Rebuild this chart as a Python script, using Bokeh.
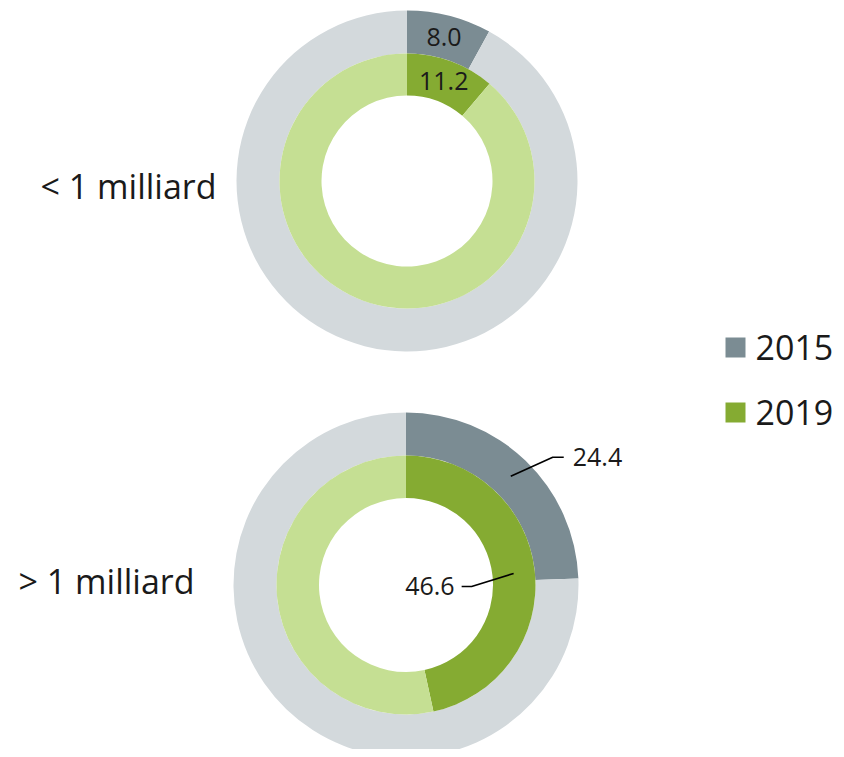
import math
from bokeh.plotting import figure
from bokeh.models import Range1d
from bokeh.core.properties import value
from bokeh.embed import file_html
from bokeh.resources import INLINE

# ---- data ----
categories = ["< 1 milliard", "> 1 milliard"]
years = ["2015", "2019"]
values_2015 = [8.0, 24.4]
values_2019 = [11.2, 46.6]

# ---- style ----
C2015 = "#7b8c93"
C2015_REST = "#d3d9dc"
C2019 = "#85ab32"
C2019_REST = "#c5df93"
FONT = "Open Sans"
TXT = "#1a1a1a"

W, H = 836, 749
p = figure(width=W, height=H, output_backend="svg", toolbar_location=None,
           x_range=Range1d(0, W), y_range=Range1d(757 - H, 757),
           min_border=0, outline_line_color=None)
p.axis.visible = False
p.grid.visible = False
p.background_fill_color = "white"
p.border_fill_color = "white"

def sy(y):  # screen y -> data y
    return 757 - y

centers = [(406.5, 180.5), (405.5, 584.5)]
rings = [  # (inner, outer) radii for 2015 (outer ring) and 2019 (inner ring)
    [(127.5, 170.5), (85.5, 127.5)],
    [(129.5, 172.5), (87.0, 129.5)],
]
label_x = [216, 194]
label_y = [185, 580]

top = math.pi / 2
for i, cat in enumerate(categories):
    cx, cy = centers[i]
    cyd = sy(cy)
    for j, (vals, col, rest) in enumerate([(values_2015, C2015, C2015_REST),
                                            (values_2019, C2019, C2019_REST)]):
        r0, r1 = rings[i][j]
        end = top - vals[i] / 100 * 2 * math.pi
        p.annular_wedge(x=[cx], y=[cyd], inner_radius=r0, outer_radius=r1,
                        start_angle=[top], end_angle=[end], direction="clock",
                        fill_color=col, line_color=None)
        p.annular_wedge(x=[cx], y=[cyd], inner_radius=r0, outer_radius=r1,
                        start_angle=[end], end_angle=[top - 2 * math.pi], direction="clock",
                        fill_color=rest, line_color=None)
    p.text(x=[label_x[i]], y=[sy(label_y[i])], text=[cat], text_font=value(FONT),
           text_font_size="34px", text_align="right", text_baseline="middle",
           text_color=TXT)

# top donut: labels inside slices
cx, cy = centers[0]
for j, (vals) in enumerate([values_2015, values_2019]):
    r0, r1 = rings[0][j]
    rm = (r0 + r1) / 2
    a = vals[0] / 100 * 2 * math.pi / 2
    x = cx + rm * math.sin(a)
    y = cy - rm * math.cos(a)
    p.text(x=[x], y=[sy(y)], text=[f"{vals[0]:.1f}"], text_font=value(FONT),
           text_font_size="25px", text_align="center", text_baseline="middle",
           text_color=TXT)

# bottom donut: labels with leader lines
cx, cy = centers[1]
# 2015 (outer ring): leader outward to the right
r0, r1 = rings[1][0]
rm = (r0 + r1) / 2
a = values_2015[1] / 100 * 2 * math.pi / 2
ax = cx + rm * math.sin(a)
ay = cy - rm * math.cos(a)
xs = [ax, ax + 42, ax + 53]
ys = [ay, ay - 19, ay - 19]
p.line(x=xs, y=[sy(v) for v in ys], line_color="black", line_width=1.6)
p.text(x=[xs[-1] + 9], y=[sy(ys[-1])], text=[f"{values_2015[1]:.1f}"],
       text_font=value(FONT), text_font_size="25px", text_align="left",
       text_baseline="middle", text_color=TXT)
# 2019 (inner ring): leader inward to the left
r0, r1 = rings[1][1]
rm = (r0 + r1) / 2
a = values_2019[1] / 100 * 2 * math.pi / 2
ax = cx + rm * math.sin(a)
ay = cy - rm * math.cos(a)
xs = [ax, ax - 42, ax - 52]
ys = [ay, ay + 13, ay + 13]
p.line(x=xs, y=[sy(v) for v in ys], line_color="black", line_width=1.6)
p.text(x=[xs[-1] - 7], y=[sy(ys[-1])], text=[f"{values_2019[1]:.1f}"],
       text_font=value(FONT), text_font_size="25px", text_align="right",
       text_baseline="middle", text_color=TXT)

# legend
leg_y = [347, 412]
for k, (yr, col) in enumerate(zip(years, [C2015, C2019])):
    p.rect(x=[735], y=[sy(leg_y[k])], width=20, height=20, fill_color=col, line_color=None)
    p.text(x=[755], y=[sy(leg_y[k])], text=[yr], text_font=value(FONT),
           text_font_size="34px", text_align="left", text_baseline="middle",
           text_color=TXT)

open("out.html", "w").write(file_html(p, INLINE))
